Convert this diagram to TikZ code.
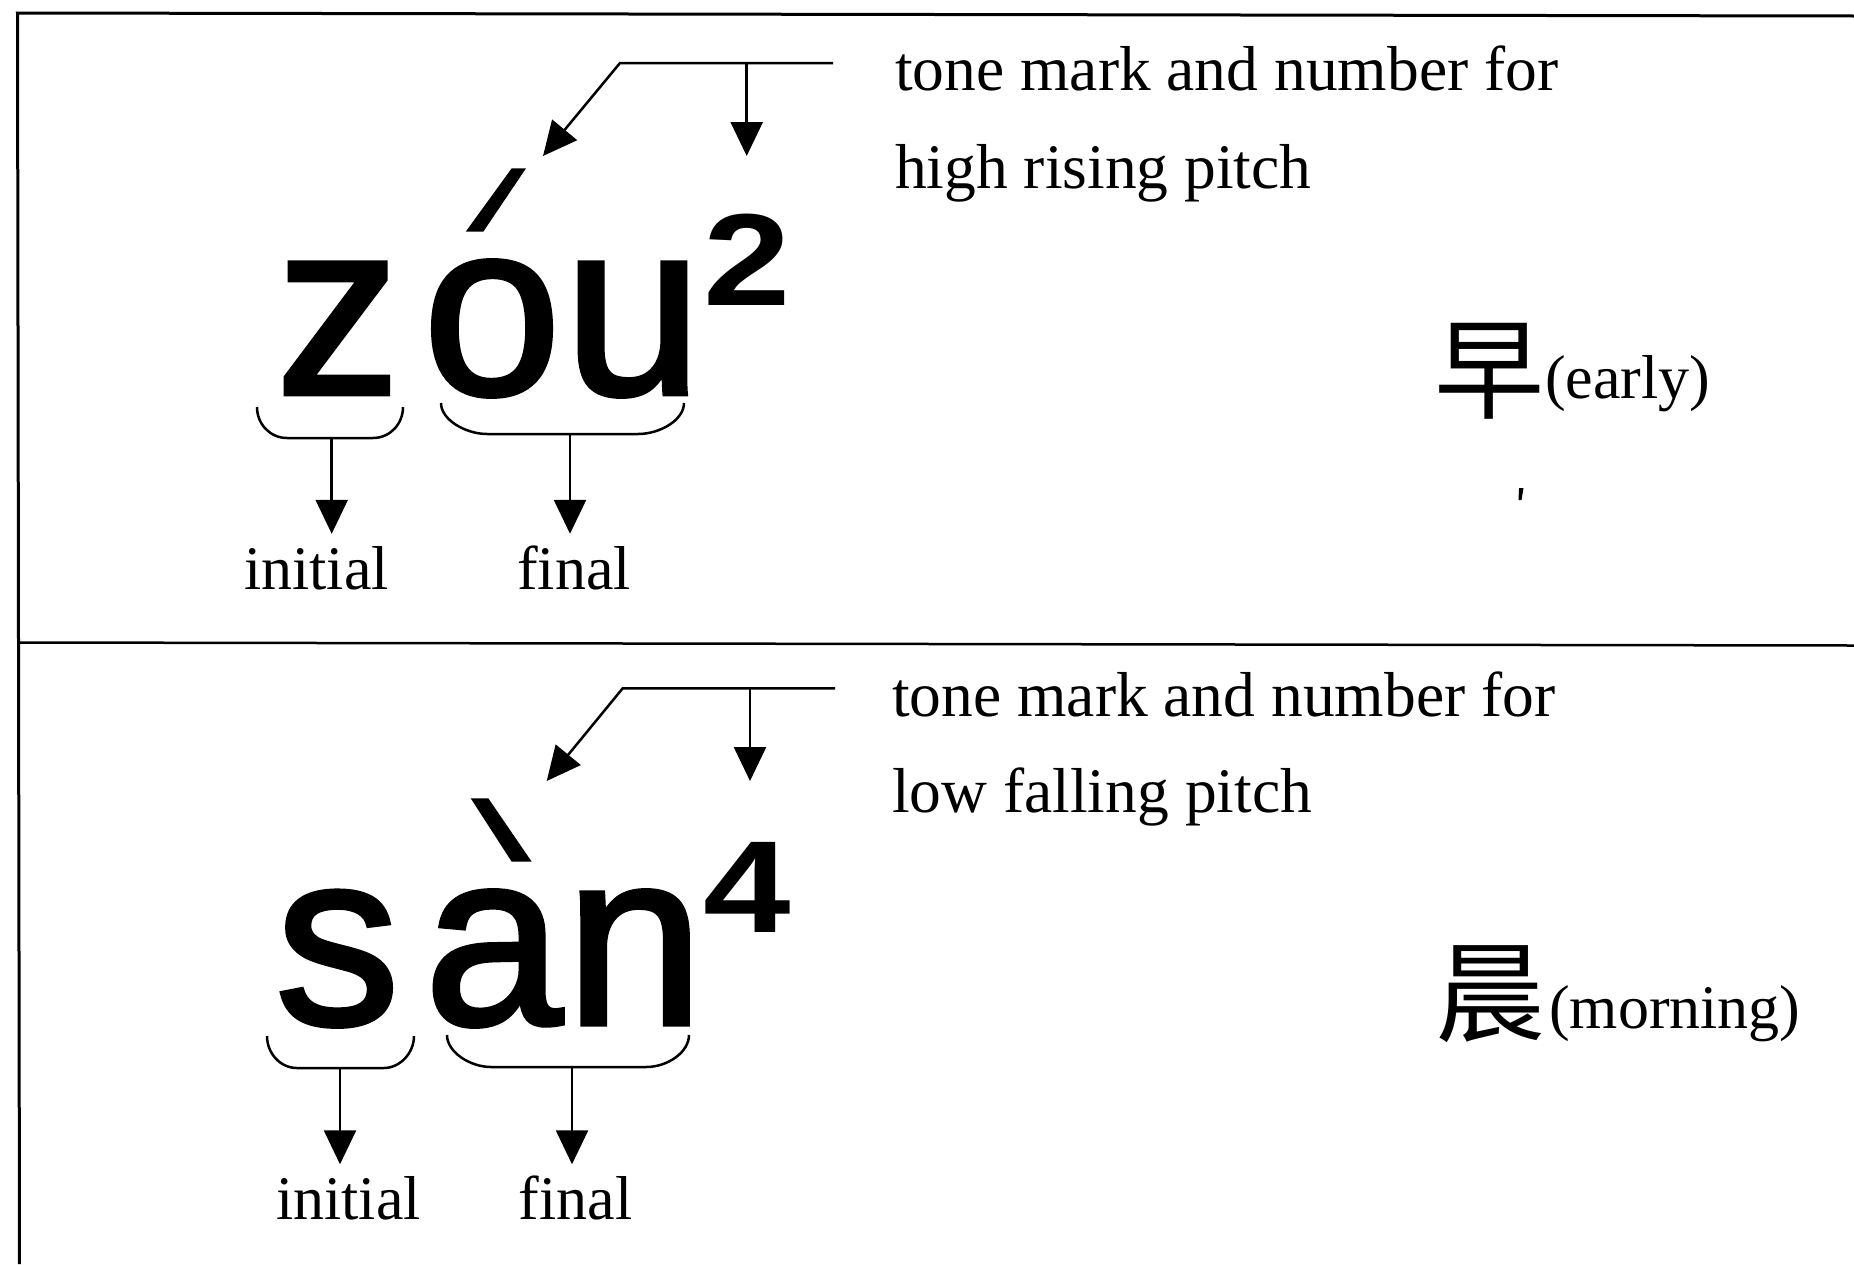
\documentclass[tikz,border=0pt]{standalone}
\usepackage{fontspec}
\setmainfont{Liberation Serif}
\newfontfamily\bigsans[FakeBold=2]{Liberation Sans}
\newfontfamily\supsans{Liberation Sans Bold}
\newfontfamily\cjkfont{Noto Sans CJK SC}
\usetikzlibrary{arrows.meta}
\begin{document}
\begin{tikzpicture}[x=1pt,y=-1pt,
  frameline/.style={line width=3pt},
  divline/.style={line width=2.5pt},
  conn/.style={line width=2.5pt},
  arr/.style={conn, -{Triangle[length=34pt,width=32pt]}},
  bracepath/.style={line width=2.5pt},
  bigletter/.style={inner sep=0pt, anchor=base, font=\bigsans\fontsize{248}{250}\selectfont},
  supnum/.style={inner sep=0pt, anchor=base, xscale=1.2, font=\supsans\fontsize{131}{131}\selectfont},
  note/.style={inner sep=0pt, anchor=base west, font=\fontsize{63.5}{64}\selectfont},
  partlabel/.style={inner sep=0pt, anchor=base, font=\fontsize{62}{62}\selectfont},
  gloss/.style={inner sep=0pt, anchor=base west, font=\fontsize{62}{62}\selectfont},
  hanzi/.style={inner sep=0pt, anchor=base, font=\cjkfont\fontsize{110}{110}\selectfont},
  accentmark/.style={fill=black}
]
\useasboundingbox[fill=white] (0,0) rectangle (1854,1264);

% frame
\draw[frameline] (1854,16) -- (17.5,13) -- (19.5,1264);
\draw[divline] (17.5,642.5) -- (1854,645.5);

% ================= upper panel =================
\node[bigletter] (z1) at (338,394) {z};
\node[bigletter] (o1) at (492,394) {o};
\node[bigletter] (u1) at (633,394) {u};
\node[supnum] (t1) at (747,305) {2};
\fill[accentmark] (511.7,168.3) -- (526,168.3) -- (483.3,231.7) -- (465.7,231.7) -- cycle;

\node[note] (n1a) at (895,90.6) {tone mark and number for};
\node[note] (n1b) at (895,188) {high rising pitch};

\coordinate (c1end) at (833,63);
\coordinate (c1elbow) at (620,63);
\coordinate (c1v) at (746.7,63);
\coordinate (c1acc) at (543,156);
\draw[arr] (c1end) -- (c1elbow) -- (c1acc);
\draw[arr] (c1v) -- (c1v |- c1acc);

% braces
\draw[bracepath] (257,407) .. controls (257,424) and (270,438) .. (287,438) -- (373,438)
  .. controls (390,438) and (403,424) .. (403,407);
\draw[bracepath] (441,403) .. controls (441,420) and (466,434) .. (487,434) -- (638,434)
  .. controls (660,434) and (684,420) .. (684,403);
\coordinate (b1i) at (331.7,438);
\coordinate (b1f) at (570,434);

\node[partlabel] (ini1) at (316.5,589) {initial};
\node[partlabel] (fin1) at (574,589) {final};
\draw[arr] (b1i) -- ([yshift=12pt]b1i |- ini1.north);
\draw[arr] (b1f) -- ([yshift=12pt]b1f |- ini1.north);

\node[hanzi] (h1) at (1489.7,410) {早};
\node[gloss] (g1) at (1545,398) {(early)};
\fill (1519,488) -- (1523.5,488) -- (1521.5,500) -- (1518.5,500) -- cycle;

% ================= lower panel =================
\node[bigletter] (s2) at (337.5,1024) {s};
\node[bigletter] (a2) at (493.5,1024) {a};
\node[bigletter] (n2) at (634.5,1024) {n};
\node[supnum] (t2) at (747.5,932) {4};
\fill[accentmark] (470.7,798.3) -- (488.3,798.3) -- (531.7,861.7) -- (511.7,861.7) -- cycle;

\node[note] (n2a) at (892,716.5) {tone mark and number for};
\node[note] (n2b) at (892,812) {low falling pitch};

\coordinate (c2end) at (835,688.3);
\coordinate (c2elbow) at (622.7,688.3);
\coordinate (c2v) at (750,688.3);
\coordinate (c2acc) at (546.7,781);
\draw[arr] (c2end) -- (c2elbow) -- (c2acc);
\draw[arr] (c2v) -- (c2v |- c2acc);

\draw[bracepath] (267,1036) .. controls (267,1053) and (280,1068) .. (297,1068) -- (384,1068)
  .. controls (400,1068) and (414,1053) .. (414,1036);
\draw[bracepath] (447,1035) .. controls (447,1052) and (470,1067) .. (491,1067) -- (646,1067)
  .. controls (668,1067) and (689,1052) .. (689,1035);
\coordinate (b2i) at (340,1068);
\coordinate (b2f) at (572,1067);

\node[partlabel] (ini2) at (348.5,1219.5) {initial};
\node[partlabel] (fin2) at (575.5,1219.5) {final};
\draw[arr] (b2i) -- ([yshift=12pt]b2i |- ini2.north);
\draw[arr] (b2f) -- ([yshift=12pt]b2f |- ini2.north);

\node[hanzi] (h2) at (1490.5,1033) {晨};
\node[gloss] (g2) at (1549,1028) {(morning)};
\end{tikzpicture}
\end{document}
